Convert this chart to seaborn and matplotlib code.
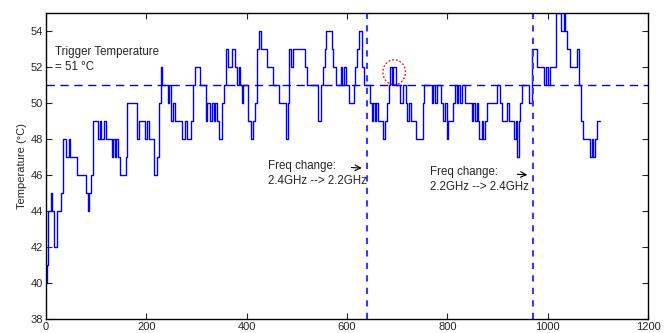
import matplotlib
matplotlib.use("Agg")
import matplotlib.pyplot as plt
from matplotlib.patches import Ellipse
import seaborn as sns
import pandas as pd

# Step change points of the temperature trace (time, °C)
change_times = [
    0, 1.3, 4.6, 9.3, 12.6, 16.6, 21.3, 29.2, 33.2, 40,
    45, 48, 62.5, 80, 83, 86.4, 90.4, 94.4, 103, 107,
    110, 115, 119, 131, 134, 137, 139, 144, 147, 159.5,
    162, 181, 185, 197, 201, 206, 216, 221, 225, 229,
    232, 243, 245, 249, 254, 257, 272, 278, 281, 289,
    292, 296, 307, 319, 321, 327, 330, 334, 337, 340,
    344, 351, 354, 358, 363, 370, 376, 380, 384, 386,
    390, 393, 403, 409, 413, 417, 420, 421, 425, 429,
    440, 453, 465, 479, 482, 485, 488, 492, 516, 521,
    543, 548, 553, 556, 559, 570, 573, 578, 588, 591,
    594, 598, 604, 613, 616, 619.5, 623, 629.5, 633, 645,
    649, 652, 655, 658, 661, 672, 676, 680, 684, 686,
    689, 692, 697, 706, 712, 718, 720, 723, 727, 738,
    751, 754, 769, 772, 776, 779, 787, 791, 796, 799,
    802, 812, 816, 819, 822, 826, 829, 836, 849, 852,
    855, 859, 862, 864, 869, 872, 875, 879, 900, 904,
    908, 919, 922, 932, 936, 939, 942, 945, 949, 962,
    968, 979, 993, 996, 1000, 1004, 1017, 1026, 1032, 1035,
    1038, 1044, 1058, 1063, 1066, 1071, 1085, 1088, 1091, 1095,
    1098, 1104,
]
change_temps = [
    40, 41, 44, 45, 44, 42, 44, 45, 48, 47,
    48, 47, 46, 45, 44, 45, 46, 49, 48, 49,
    48, 49, 48, 47, 48, 47, 48, 47, 46, 47,
    50, 48, 49, 48, 49, 48, 46, 47, 50, 52,
    51, 50, 51, 49, 50, 49, 48, 49, 48, 49,
    51, 52, 51, 49, 50, 49, 50, 49, 50, 49,
    48, 50, 51, 53, 52, 53, 52, 51, 52, 51,
    50, 51, 49, 48, 49, 50, 51, 53, 54, 53,
    52, 51, 50, 48, 50, 53, 52, 53, 52, 51,
    49, 51, 52, 53, 54, 53, 52, 51, 52, 51,
    52, 51, 50, 51, 52, 53, 54, 52, 51, 50,
    49, 50, 49, 50, 49, 48, 49, 50, 51, 52,
    51, 52, 51, 50, 51, 50, 49, 50, 49, 48,
    50, 51, 50, 51, 50, 51, 50, 49, 50, 48,
    49, 50, 51, 50, 51, 50, 51, 50, 49, 50,
    49, 50, 49, 48, 49, 48, 49, 50, 51, 50,
    49, 50, 49, 48, 49, 47, 49, 50, 51, 50,
    53, 52, 51, 52, 51, 52, 55, 54, 55, 54,
    53, 52, 53, 51, 49, 48, 47, 48, 47, 48,
    49, 49,
]

trigger_temp = 51
freq_change_times = [640, 970]
x_ticks = [0, 200, 400, 600, 800, 1000, 1200]
y_ticks = [38, 40, 42, 44, 46, 48, 50, 52, 54]

sns.set_style("ticks")
plt.rcParams['font.family'] = ['Liberation Sans', 'DejaVu Sans']

fig = plt.figure(figsize=(6.71, 3.33), dpi=100)
ax = fig.add_axes([0.0686, 0.0411, 0.8971, 0.9208])

df = pd.DataFrame({"time": change_times, "temp": change_temps})
sns.lineplot(data=df, x="time", y="temp", ax=ax, color="blue", lw=1.0,
             drawstyle="steps-post", estimator=None, sort=False)

ax.axhline(trigger_temp, color="blue", lw=1.0, dashes=(6, 4))
for t in freq_change_times:
    ax.axvline(t, color="#3a3aff", lw=1.5, dashes=(3, 3))

ax.add_patch(Ellipse((694, 51.7), 45, 1.38, fill=False, edgecolor="red",
                     lw=0.9, linestyle=(0, (1.5, 1.5))))

ax.set_xlim(0, 1200)
ax.set_ylim(38, 55)
ax.set_xticks(x_ticks)
ax.set_yticks(y_ticks)
ax.tick_params(direction="in", top=True, right=True, labelsize=8, length=4,
               width=0.8, pad=2)
for s in ax.spines.values():
    s.set_linewidth(1.0)
    s.set_color("black")
ax.set_xlabel("")
ax.set_ylabel("Temperature (°C)", fontsize=8, labelpad=3)

ax.text(18, 52.42, "Trigger Temperature\n= 51 °C", fontsize=8.3, va="center",
        ha="left", linespacing=1.3)
ax.text(443, 46.08, "Freq change:\n2.4GHz --> 2.2GHz", fontsize=8.3, va="center",
        ha="left", linespacing=1.3)
ax.text(766, 45.75, "Freq change:\n2.2GHz --> 2.4GHz", fontsize=8.3, va="center",
        ha="left", linespacing=1.3)
ax.annotate("", xy=(635, 46.38), xytext=(603, 46.42),
            arrowprops=dict(arrowstyle="->", color="black", lw=0.8))
ax.annotate("", xy=(965, 46.0), xytext=(934, 46.05),
            arrowprops=dict(arrowstyle="->", color="black", lw=0.8))

fig.savefig("out.png", dpi=100)
